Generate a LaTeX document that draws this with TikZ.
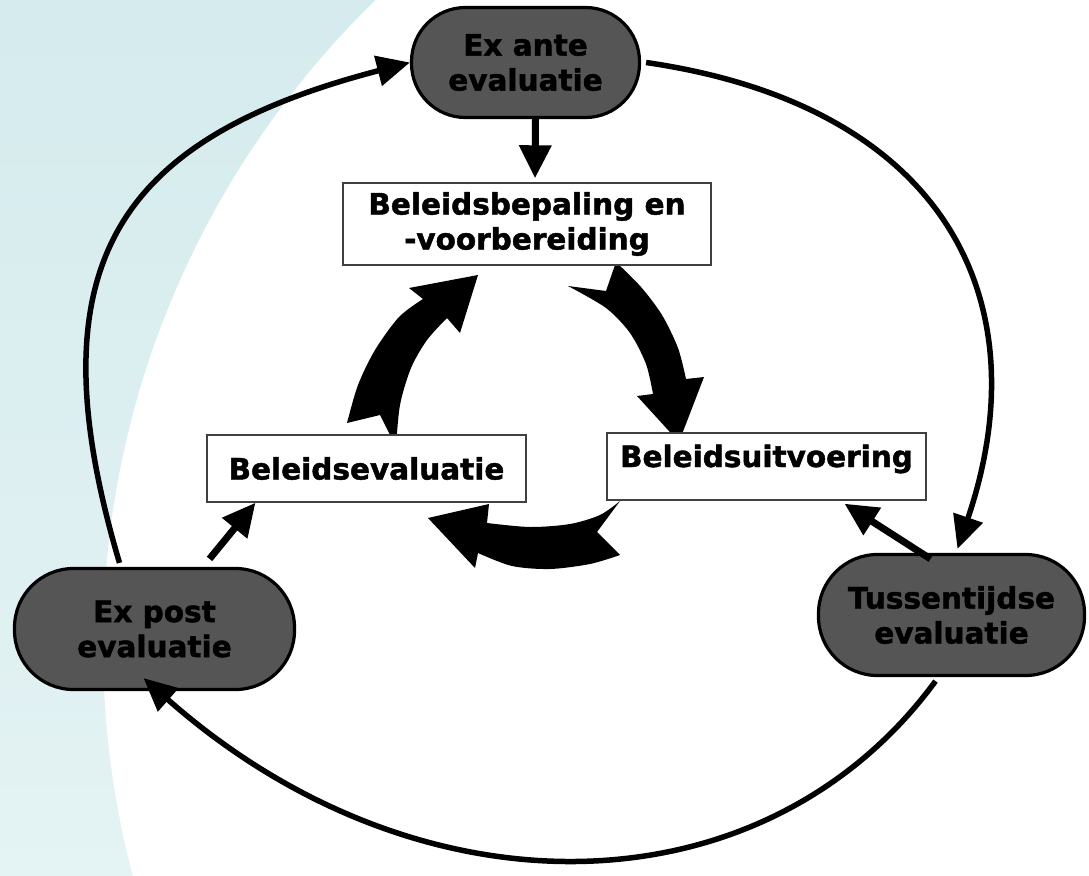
\documentclass[tikz,border=0pt]{standalone}
\usepackage{fontspec}
\setmainfont{DejaVu Sans}[BoldFeatures={FakeBold=1.5}]
\usetikzlibrary{arrows.meta}
\definecolor{bgA}{RGB}{213,235,237}
\definecolor{bgB}{RGB}{228,243,244}
\definecolor{pillgray}{RGB}{85,85,85}
\begin{document}
\begin{tikzpicture}[x=1pt,y=-1pt,
  txt/.style={align=center, font=\bfseries\fontsize{29.5}{35}\selectfont, text=black, inner sep=0pt},
  pillnode/.style={txt, draw=black, line width=3.2pt, fill=pillgray},
  boxnode/.style={txt, draw=black!75, line width=1.4pt, fill=white},
  outerarc/.style={line width=5.5pt, -{Triangle[length=33pt,width=30pt]}},
  sarr/.style={line width=7pt, -{Triangle[length=33pt,width=31pt]}},
  fatarrow/.style={fill=black}
]
\useasboundingbox (0,0) rectangle (1089,875);
\shade[top color=bgA,bottom color=bgB] (0,0) rectangle (1089,875);
\begin{scope}
  \clip (0,0) rectangle (1089,875);
  \fill[white] (1002,645) circle[radius=899];
\end{scope}

% fat cycle arrows
\fill[fatarrow] (616,262) -- plot[smooth] coordinates {(616,262) (641,287) (662,315) (678,348) (686,379)}
  -- (704,377) -- (679,442) -- (637,396)
  -- plot[smooth] coordinates {(653,394) (646,364) (630,333) (606,308) (568,286)} -- (606,291) -- cycle;
\fill[fatarrow] (620,501) -- plot[smooth] coordinates {(620,501) (600,515) (570,524) (530,527) (487,523)}
  -- (489,504) -- (428,518) -- (475,568)
  -- plot[smooth] coordinates {(478,553) (512,566) (550,569) (590,564) (620,555)} -- (597,532) -- cycle;
\fill[fatarrow] (396,447) -- plot[smooth] coordinates {(396,447) (400,405) (411,368) (427,340) (447,318)}
  -- (460,333) -- (478,275) -- (409,288)
  -- plot[smooth] coordinates {(423,299) (399,317) (375,350) (358,385) (347,423)} -- (380,415) -- cycle;

% nodes
\node[pillnode, minimum width=228pt, minimum height=110pt, rounded corners=54pt] (exante) at (525.5,62.5) {Ex ante\\evaluatie};
\node[pillnode, minimum width=280pt, minimum height=121pt, rounded corners=59pt] (expost) at (154.5,629) {Ex post\\evaluatie};
\node[pillnode, minimum width=266pt, minimum height=121pt, rounded corners=59pt] (tussen) at (951.5,615) {Tussentijdse\\evaluatie};

\node[boxnode, minimum width=368pt, minimum height=82pt] (bepaling) at (527,224) {Beleidsbepaling en\\-voorbereiding};
\node[boxnode, minimum width=319pt, minimum height=67pt] (evaluatie) at (366.5,468.5) {Beleidsevaluatie};
\node[boxnode, minimum width=319pt, text height=34pt, text depth=33pt] (uitvoering) at (766.5,466.5) {Beleidsuitvoering};

% outer cycle
\draw[outerarc] ([xshift=-35pt,yshift=4pt]expost.north) .. controls (30,262) and (120,138) .. (exante.west);
\draw[outerarc] ([xshift=5pt]exante.east) .. controls (945,106) and (1042,300) .. ([xshift=6pt,yshift=4pt]tussen.north);
\draw[outerarc] ([xshift=-16pt,yshift=-4pt]tussen.south) .. controls (764,915) and (420,922) .. ([xshift=-11pt,yshift=13pt]expost.south);

% straight arrows
\draw[sarr] ([xshift=10pt]exante.south) -- ([xshift=8pt,yshift=4pt]bepaling.north);
\draw[sarr] ([xshift=55pt,yshift=8pt]expost.north) -- ([xshift=-111pt]evaluatie.south);
\draw[sarr] ([xshift=-21pt,yshift=-6pt]tussen.north) -- ([xshift=78pt,yshift=-3pt]uitvoering.south);
\end{tikzpicture}
\end{document}
